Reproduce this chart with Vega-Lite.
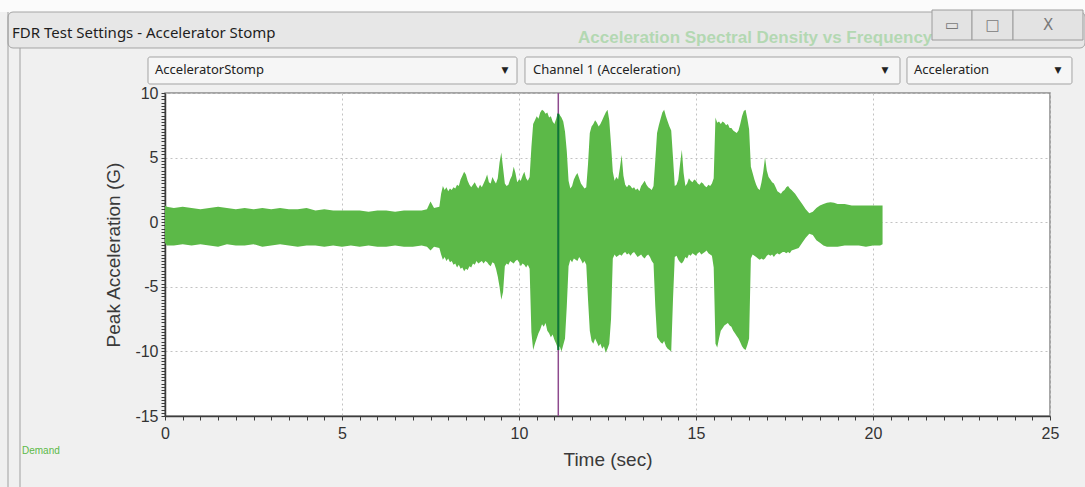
{
  "$schema": "https://vega.github.io/schema/vega-lite/v6.json",
  "width": 885,
  "height": 323,
  "autosize": "none",
  "padding": {"left": 165, "top": 93, "right": 35, "bottom": 71},
  "background": "#f0f0f0",
  "config": {
    "view": {"fill": "#ffffff", "stroke": "#8a8a8a", "strokeWidth": 1.5},
    "text": {"font": "Noto Sans"}
  },
  "datasets": {
    "signal": [
      {"t": 0.0, "hi": 1.3, "lo": -1.6}, {"t": 0.05, "hi": 1.2, "lo": -1.8}, {"t": 0.25, "hi": 1.1, "lo": -1.8},
      {"t": 0.5, "hi": 1.2, "lo": -1.7}, {"t": 0.75, "hi": 1.1, "lo": -1.8}, {"t": 1.0, "hi": 1.0, "lo": -1.7},
      {"t": 1.25, "hi": 1.1, "lo": -1.8}, {"t": 1.5, "hi": 1.2, "lo": -1.9}, {"t": 1.75, "hi": 1.1, "lo": -1.7},
      {"t": 2.0, "hi": 1.0, "lo": -1.8}, {"t": 2.25, "hi": 1.1, "lo": -1.8}, {"t": 2.5, "hi": 1.0, "lo": -1.7},
      {"t": 2.75, "hi": 1.1, "lo": -1.9}, {"t": 3.0, "hi": 1.0, "lo": -1.8}, {"t": 3.25, "hi": 1.1, "lo": -1.7},
      {"t": 3.5, "hi": 1.0, "lo": -1.8}, {"t": 3.75, "hi": 1.0, "lo": -1.9}, {"t": 4.0, "hi": 1.1, "lo": -1.8},
      {"t": 4.25, "hi": 0.9, "lo": -1.8}, {"t": 4.5, "hi": 1.0, "lo": -1.9}, {"t": 4.75, "hi": 0.9, "lo": -1.8},
      {"t": 5.0, "hi": 0.9, "lo": -1.9}, {"t": 5.25, "hi": 0.9, "lo": -1.8}, {"t": 5.5, "hi": 0.9, "lo": -1.9},
      {"t": 5.75, "hi": 0.8, "lo": -1.8}, {"t": 6.0, "hi": 0.9, "lo": -1.9}, {"t": 6.25, "hi": 0.9, "lo": -1.9},
      {"t": 6.5, "hi": 0.8, "lo": -1.8}, {"t": 6.75, "hi": 0.9, "lo": -1.9}, {"t": 7.0, "hi": 0.9, "lo": -1.9},
      {"t": 7.25, "hi": 0.9, "lo": -1.8}, {"t": 7.4, "hi": 1.0, "lo": -1.9}, {"t": 7.5, "hi": 1.6, "lo": -2.2},
      {"t": 7.6, "hi": 1.1, "lo": -1.9}, {"t": 7.75, "hi": 1.2, "lo": -2.0}, {"t": 7.8, "hi": 2.2, "lo": -2.5},
      {"t": 7.85, "hi": 2.8, "lo": -2.9}, {"t": 7.9, "hi": 2.5, "lo": -2.7}, {"t": 7.95, "hi": 2.7, "lo": -3.0},
      {"t": 8.0, "hi": 2.4, "lo": -2.8}, {"t": 8.05, "hi": 2.6, "lo": -3.1}, {"t": 8.1, "hi": 2.5, "lo": -3.0},
      {"t": 8.15, "hi": 2.7, "lo": -3.3}, {"t": 8.2, "hi": 2.6, "lo": -3.2}, {"t": 8.25, "hi": 2.9, "lo": -3.5},
      {"t": 8.3, "hi": 2.8, "lo": -3.3}, {"t": 8.35, "hi": 3.3, "lo": -3.6}, {"t": 8.4, "hi": 3.6, "lo": -3.5},
      {"t": 8.45, "hi": 3.9, "lo": -3.8}, {"t": 8.5, "hi": 3.7, "lo": -3.6}, {"t": 8.55, "hi": 3.2, "lo": -3.7},
      {"t": 8.6, "hi": 2.9, "lo": -3.4}, {"t": 8.65, "hi": 2.7, "lo": -3.5}, {"t": 8.7, "hi": 2.9, "lo": -3.2},
      {"t": 8.75, "hi": 3.1, "lo": -3.3}, {"t": 8.8, "hi": 2.8, "lo": -3.0}, {"t": 8.85, "hi": 2.6, "lo": -3.2},
      {"t": 8.9, "hi": 2.9, "lo": -3.1}, {"t": 8.95, "hi": 2.7, "lo": -3.0}, {"t": 9.0, "hi": 3.0, "lo": -3.2},
      {"t": 9.05, "hi": 3.3, "lo": -3.0}, {"t": 9.1, "hi": 3.7, "lo": -3.1}, {"t": 9.15, "hi": 3.1, "lo": -3.3},
      {"t": 9.2, "hi": 3.0, "lo": -3.4}, {"t": 9.25, "hi": 3.5, "lo": -3.1}, {"t": 9.3, "hi": 3.2, "lo": -3.2},
      {"t": 9.35, "hi": 3.0, "lo": -3.6}, {"t": 9.4, "hi": 3.4, "lo": -4.2}, {"t": 9.45, "hi": 4.6, "lo": -5.0},
      {"t": 9.5, "hi": 5.4, "lo": -6.0}, {"t": 9.55, "hi": 4.2, "lo": -5.4}, {"t": 9.6, "hi": 3.0, "lo": -3.4},
      {"t": 9.65, "hi": 2.8, "lo": -3.2}, {"t": 9.7, "hi": 2.9, "lo": -3.3}, {"t": 9.75, "hi": 3.3, "lo": -3.0},
      {"t": 9.8, "hi": 3.6, "lo": -3.1}, {"t": 9.85, "hi": 4.3, "lo": -3.2}, {"t": 9.9, "hi": 3.8, "lo": -3.0},
      {"t": 9.95, "hi": 3.1, "lo": -2.9}, {"t": 10.0, "hi": 3.3, "lo": -3.1}, {"t": 10.05, "hi": 3.2, "lo": -3.4},
      {"t": 10.1, "hi": 3.6, "lo": -3.2}, {"t": 10.15, "hi": 3.9, "lo": -3.3}, {"t": 10.2, "hi": 3.4, "lo": -3.5},
      {"t": 10.25, "hi": 3.2, "lo": -3.3}, {"t": 10.3, "hi": 3.5, "lo": -3.6}, {"t": 10.35, "hi": 5.8, "lo": -8.5},
      {"t": 10.4, "hi": 7.6, "lo": -9.9}, {"t": 10.45, "hi": 7.9, "lo": -9.4}, {"t": 10.5, "hi": 8.2, "lo": -9.0},
      {"t": 10.55, "hi": 8.0, "lo": -8.6}, {"t": 10.6, "hi": 8.5, "lo": -8.3}, {"t": 10.65, "hi": 8.7, "lo": -7.9},
      {"t": 10.7, "hi": 8.6, "lo": -8.1}, {"t": 10.75, "hi": 8.4, "lo": -7.8}, {"t": 10.8, "hi": 8.5, "lo": -8.4},
      {"t": 10.85, "hi": 8.1, "lo": -8.6}, {"t": 10.9, "hi": 8.2, "lo": -8.9}, {"t": 10.95, "hi": 7.8, "lo": -8.7},
      {"t": 11.0, "hi": 7.6, "lo": -9.1}, {"t": 11.05, "hi": 8.0, "lo": -9.4}, {"t": 11.1, "hi": 8.5, "lo": -9.8},
      {"t": 11.15, "hi": 8.3, "lo": -9.6}, {"t": 11.2, "hi": 8.1, "lo": -10.0}, {"t": 11.25, "hi": 7.8, "lo": -9.5},
      {"t": 11.3, "hi": 7.0, "lo": -9.0}, {"t": 11.35, "hi": 5.5, "lo": -6.5}, {"t": 11.4, "hi": 3.2, "lo": -3.4},
      {"t": 11.45, "hi": 2.6, "lo": -2.9}, {"t": 11.5, "hi": 2.8, "lo": -3.1}, {"t": 11.55, "hi": 3.3, "lo": -2.8},
      {"t": 11.6, "hi": 3.6, "lo": -2.9}, {"t": 11.65, "hi": 3.8, "lo": -3.0}, {"t": 11.7, "hi": 3.4, "lo": -2.7},
      {"t": 11.75, "hi": 3.0, "lo": -2.9}, {"t": 11.8, "hi": 2.8, "lo": -3.2}, {"t": 11.85, "hi": 2.6, "lo": -3.0},
      {"t": 11.9, "hi": 2.7, "lo": -3.3}, {"t": 11.95, "hi": 4.5, "lo": -6.0}, {"t": 12.0, "hi": 6.9, "lo": -8.4},
      {"t": 12.05, "hi": 7.4, "lo": -9.2}, {"t": 12.1, "hi": 7.6, "lo": -9.4}, {"t": 12.15, "hi": 7.9, "lo": -9.0},
      {"t": 12.2, "hi": 7.7, "lo": -9.3}, {"t": 12.25, "hi": 7.4, "lo": -9.6}, {"t": 12.3, "hi": 7.6, "lo": -9.4},
      {"t": 12.35, "hi": 7.9, "lo": -9.8}, {"t": 12.4, "hi": 8.2, "lo": -9.6}, {"t": 12.45, "hi": 8.5, "lo": -10.1},
      {"t": 12.5, "hi": 8.7, "lo": -9.8}, {"t": 12.55, "hi": 7.9, "lo": -9.4}, {"t": 12.6, "hi": 6.0, "lo": -7.5},
      {"t": 12.65, "hi": 3.9, "lo": -2.8}, {"t": 12.7, "hi": 3.2, "lo": -2.5}, {"t": 12.75, "hi": 3.5, "lo": -2.7},
      {"t": 12.8, "hi": 3.3, "lo": -2.6}, {"t": 12.85, "hi": 4.2, "lo": -2.5}, {"t": 12.9, "hi": 5.2, "lo": -2.6},
      {"t": 12.95, "hi": 3.6, "lo": -2.4}, {"t": 13.0, "hi": 2.9, "lo": -2.3}, {"t": 13.05, "hi": 2.7, "lo": -2.5},
      {"t": 13.1, "hi": 2.9, "lo": -2.4}, {"t": 13.15, "hi": 2.8, "lo": -2.6}, {"t": 13.2, "hi": 2.6, "lo": -2.4},
      {"t": 13.25, "hi": 2.7, "lo": -2.3}, {"t": 13.3, "hi": 2.5, "lo": -2.5}, {"t": 13.35, "hi": 2.6, "lo": -2.7},
      {"t": 13.4, "hi": 2.4, "lo": -2.6}, {"t": 13.45, "hi": 2.8, "lo": -2.5}, {"t": 13.5, "hi": 3.0, "lo": -2.7},
      {"t": 13.55, "hi": 3.2, "lo": -2.8}, {"t": 13.6, "hi": 2.9, "lo": -2.6}, {"t": 13.65, "hi": 2.7, "lo": -2.5},
      {"t": 13.7, "hi": 2.6, "lo": -2.7}, {"t": 13.75, "hi": 2.5, "lo": -3.0}, {"t": 13.8, "hi": 2.8, "lo": -3.2},
      {"t": 13.85, "hi": 4.8, "lo": -6.5}, {"t": 13.9, "hi": 6.9, "lo": -8.9}, {"t": 13.95, "hi": 7.5, "lo": -9.1},
      {"t": 14.0, "hi": 8.0, "lo": -9.3}, {"t": 14.05, "hi": 8.5, "lo": -9.4}, {"t": 14.1, "hi": 8.7, "lo": -9.2},
      {"t": 14.15, "hi": 8.2, "lo": -9.6}, {"t": 14.2, "hi": 7.8, "lo": -9.8}, {"t": 14.25, "hi": 7.4, "lo": -9.9},
      {"t": 14.3, "hi": 7.1, "lo": -10.0}, {"t": 14.35, "hi": 5.0, "lo": -6.0}, {"t": 14.4, "hi": 2.8, "lo": -2.7},
      {"t": 14.45, "hi": 2.9, "lo": -2.6}, {"t": 14.5, "hi": 3.3, "lo": -2.9}, {"t": 14.55, "hi": 4.5, "lo": -3.1},
      {"t": 14.6, "hi": 5.6, "lo": -3.2}, {"t": 14.65, "hi": 3.8, "lo": -3.0}, {"t": 14.7, "hi": 2.8, "lo": -2.7},
      {"t": 14.75, "hi": 3.0, "lo": -2.8}, {"t": 14.8, "hi": 3.4, "lo": -2.5}, {"t": 14.85, "hi": 3.2, "lo": -2.6},
      {"t": 14.9, "hi": 3.1, "lo": -2.4}, {"t": 14.95, "hi": 3.3, "lo": -2.5}, {"t": 15.0, "hi": 3.2, "lo": -2.6},
      {"t": 15.05, "hi": 3.0, "lo": -2.4}, {"t": 15.1, "hi": 2.9, "lo": -2.3}, {"t": 15.15, "hi": 3.1, "lo": -2.5},
      {"t": 15.2, "hi": 3.0, "lo": -2.4}, {"t": 15.25, "hi": 2.8, "lo": -2.3}, {"t": 15.3, "hi": 2.7, "lo": -2.2},
      {"t": 15.35, "hi": 2.9, "lo": -2.4}, {"t": 15.4, "hi": 2.8, "lo": -2.5}, {"t": 15.45, "hi": 3.0, "lo": -2.6},
      {"t": 15.5, "hi": 3.4, "lo": -3.5}, {"t": 15.55, "hi": 8.1, "lo": -9.4}, {"t": 15.6, "hi": 7.7, "lo": -9.7},
      {"t": 15.65, "hi": 7.8, "lo": -9.0}, {"t": 15.7, "hi": 7.6, "lo": -8.4}, {"t": 15.75, "hi": 7.8, "lo": -8.2},
      {"t": 15.8, "hi": 7.7, "lo": -8.0}, {"t": 15.85, "hi": 7.5, "lo": -7.9}, {"t": 15.9, "hi": 7.6, "lo": -7.8},
      {"t": 15.95, "hi": 7.3, "lo": -8.0}, {"t": 16.0, "hi": 7.3, "lo": -8.1}, {"t": 16.05, "hi": 7.1, "lo": -8.4},
      {"t": 16.1, "hi": 7.0, "lo": -8.6}, {"t": 16.15, "hi": 6.9, "lo": -8.8}, {"t": 16.2, "hi": 7.1, "lo": -9.0},
      {"t": 16.25, "hi": 7.6, "lo": -9.3}, {"t": 16.3, "hi": 8.2, "lo": -9.6}, {"t": 16.35, "hi": 8.6, "lo": -9.8},
      {"t": 16.4, "hi": 8.7, "lo": -9.9}, {"t": 16.45, "hi": 8.0, "lo": -9.5}, {"t": 16.5, "hi": 7.2, "lo": -9.0},
      {"t": 16.55, "hi": 4.3, "lo": -2.8}, {"t": 16.6, "hi": 3.8, "lo": -2.5}, {"t": 16.65, "hi": 3.3, "lo": -2.6},
      {"t": 16.7, "hi": 2.9, "lo": -2.7}, {"t": 16.75, "hi": 2.6, "lo": -2.8}, {"t": 16.8, "hi": 2.5, "lo": -2.9},
      {"t": 16.85, "hi": 3.1, "lo": -2.8}, {"t": 16.9, "hi": 3.9, "lo": -2.9}, {"t": 16.95, "hi": 5.0, "lo": -2.8},
      {"t": 17.0, "hi": 4.0, "lo": -2.6}, {"t": 17.05, "hi": 3.5, "lo": -2.5}, {"t": 17.1, "hi": 3.3, "lo": -2.6},
      {"t": 17.15, "hi": 3.1, "lo": -2.5}, {"t": 17.2, "hi": 3.0, "lo": -2.7}, {"t": 17.25, "hi": 2.7, "lo": -2.5},
      {"t": 17.3, "hi": 2.4, "lo": -2.4}, {"t": 17.35, "hi": 2.3, "lo": -2.5}, {"t": 17.4, "hi": 2.2, "lo": -2.4},
      {"t": 17.45, "hi": 2.4, "lo": -2.3}, {"t": 17.5, "hi": 2.5, "lo": -2.3}, {"t": 17.55, "hi": 2.7, "lo": -2.4},
      {"t": 17.6, "hi": 2.8, "lo": -2.3}, {"t": 17.65, "hi": 2.6, "lo": -2.4}, {"t": 17.7, "hi": 2.5, "lo": -2.2},
      {"t": 17.8, "hi": 2.2, "lo": -2.1}, {"t": 17.9, "hi": 1.8, "lo": -2.0}, {"t": 18.0, "hi": 1.4, "lo": -1.6},
      {"t": 18.1, "hi": 1.0, "lo": -1.2}, {"t": 18.2, "hi": 0.7, "lo": -0.9}, {"t": 18.3, "hi": 0.8, "lo": -1.0},
      {"t": 18.4, "hi": 1.1, "lo": -1.4}, {"t": 18.5, "hi": 1.3, "lo": -1.6}, {"t": 18.6, "hi": 1.4, "lo": -1.8},
      {"t": 18.7, "hi": 1.5, "lo": -1.9}, {"t": 18.8, "hi": 1.55, "lo": -1.9}, {"t": 18.9, "hi": 1.5, "lo": -1.9},
      {"t": 19.0, "hi": 1.4, "lo": -1.9}, {"t": 19.2, "hi": 1.4, "lo": -1.8}, {"t": 19.4, "hi": 1.3, "lo": -1.8},
      {"t": 19.6, "hi": 1.3, "lo": -1.8}, {"t": 19.8, "hi": 1.3, "lo": -1.9}, {"t": 20.0, "hi": 1.3, "lo": -1.8},
      {"t": 20.2, "hi": 1.3, "lo": -1.8}, {"t": 20.27, "hi": 1.3, "lo": -1.7}
    ],
    "cursor": [{"t": 11.11, "top": 10, "bottom": -15, "gtop": 8.4, "gbottom": -9.9}],
    "topstrip": [{"x": -4.661, "x2": 25.989, "y": 17.198, "y2": 16.269}],
    "titlebar": [{"x": -4.435, "x2": 25.989, "y": 16.269, "y2": 13.483}],
    "frame": [
      {"x": -4.435, "y": 16.269, "y2": -20.495},
      {"x": -4.096, "y": 13.483, "y2": -20.495}
    ],
    "windowtitle": [{"x": -4.322, "y": 14.644, "label": "FDR Test Settings - Accelerator Stomp"}],
    "ghosttitle": [{"x": 11.667, "y": 14.257, "label": "Acceleration Spectral Density vs Frequency"}],
    "buttons": [
      {"x": 21.667, "x2": 22.797, "y": 16.424, "y2": 14.102, "cx": 22.232, "cy": 15.263, "glyph": "▭"},
      {"x": 22.797, "x2": 23.955, "y": 16.424, "y2": 14.102, "cx": 23.376, "cy": 15.263, "glyph": "□"},
      {"x": 23.955, "x2": 25.932, "y": 16.424, "y2": 14.102, "cx": 24.944, "cy": 15.263, "glyph": "X"}
    ],
    "dropdowns": [
      {"x": -0.48, "x2": 9.944, "y": 12.786, "y2": 10.697, "lx": -0.282, "ly": 11.742, "ax": 9.605, "label": "AcceleratorStomp"},
      {"x": 10.169, "x2": 20.763, "y": 12.786, "y2": 10.697, "lx": 10.395, "ly": 11.742, "ax": 20.339, "label": "Channel 1 (Acceleration)"},
      {"x": 20.96, "x2": 25.621, "y": 12.786, "y2": 10.697, "lx": 21.158, "ly": 11.742, "ax": 25.226, "label": "Acceleration"}
    ],
    "legendnote": [{"x": -4.04, "y": -17.709, "label": "Demand"}]
  },
  "layer": [
    {
      "data": {"name": "topstrip"},
      "mark": {"type": "rect", "fill": "#fbfbfb"},
      "encoding": {
        "x": {"field": "x", "type": "quantitative", "scale": {"domain": [0, 25], "nice": false, "zero": false}, "axis": null},
        "x2": {"field": "x2"},
        "y": {"field": "y", "type": "quantitative", "scale": {"domain": [-15, 10], "nice": false, "zero": false}, "axis": null},
        "y2": {"field": "y2"}
      }
    },
    {
      "data": {"name": "titlebar"},
      "mark": {"type": "rect", "fill": "#e7e7e7", "stroke": "#a5a5a5", "strokeWidth": 1, "cornerRadius": 5},
      "encoding": {
        "x": {"field": "x", "type": "quantitative", "scale": {"domain": [0, 25], "nice": false, "zero": false}, "axis": null},
        "x2": {"field": "x2"},
        "y": {"field": "y", "type": "quantitative", "scale": {"domain": [-15, 10], "nice": false, "zero": false}, "axis": null},
        "y2": {"field": "y2"}
      }
    },
    {
      "data": {"name": "frame"},
      "mark": {"type": "rule", "stroke": "#a0a0a0", "strokeWidth": 1},
      "encoding": {
        "x": {"field": "x", "type": "quantitative", "scale": {"domain": [0, 25], "nice": false, "zero": false}, "axis": null},
        "y": {"field": "y", "type": "quantitative", "scale": {"domain": [-15, 10], "nice": false, "zero": false}, "axis": null},
        "y2": {"field": "y2"}
      }
    },
    {
      "data": {"name": "windowtitle"},
      "mark": {"type": "text", "align": "left", "baseline": "middle", "fontSize": 15, "color": "#1e1e1e", "font": "Noto Sans"},
      "encoding": {
        "x": {"field": "x", "type": "quantitative", "scale": {"domain": [0, 25], "nice": false, "zero": false}, "axis": null},
        "y": {"field": "y", "type": "quantitative", "scale": {"domain": [-15, 10], "nice": false, "zero": false}, "axis": null},
        "text": {"field": "label"}
      }
    },
    {
      "data": {"name": "ghosttitle"},
      "mark": {"type": "text", "align": "left", "baseline": "middle", "fontSize": 17, "fontWeight": "bold", "color": "#6cc46a", "opacity": 0.42, "font": "Liberation Sans"},
      "encoding": {
        "x": {"field": "x", "type": "quantitative", "scale": {"domain": [0, 25], "nice": false, "zero": false}, "axis": null},
        "y": {"field": "y", "type": "quantitative", "scale": {"domain": [-15, 10], "nice": false, "zero": false}, "axis": null},
        "text": {"field": "label"}
      }
    },
    {
      "data": {"name": "buttons"},
      "mark": {"type": "rect", "fill": "#e3e3e3", "stroke": "#9c9c9c", "strokeWidth": 1},
      "encoding": {
        "x": {"field": "x", "type": "quantitative", "scale": {"domain": [0, 25], "nice": false, "zero": false}, "axis": null},
        "x2": {"field": "x2"},
        "y": {"field": "y", "type": "quantitative", "scale": {"domain": [-15, 10], "nice": false, "zero": false}, "axis": null},
        "y2": {"field": "y2"}
      }
    },
    {
      "data": {"name": "buttons"},
      "mark": {"type": "text", "align": "center", "baseline": "middle", "fontSize": 15, "color": "#7a7a7a", "font": "DejaVu Sans"},
      "encoding": {
        "x": {"field": "cx", "type": "quantitative", "scale": {"domain": [0, 25], "nice": false, "zero": false}, "axis": null},
        "y": {"field": "cy", "type": "quantitative", "scale": {"domain": [-15, 10], "nice": false, "zero": false}, "axis": null},
        "text": {"field": "glyph"}
      }
    },
    {
      "data": {"name": "dropdowns"},
      "mark": {"type": "rect", "fill": "#f6f6f6", "stroke": "#a3a3a3", "strokeWidth": 1, "cornerRadius": 2},
      "encoding": {
        "x": {"field": "x", "type": "quantitative", "scale": {"domain": [0, 25], "nice": false, "zero": false}, "axis": null},
        "x2": {"field": "x2"},
        "y": {"field": "y", "type": "quantitative", "scale": {"domain": [-15, 10], "nice": false, "zero": false}, "axis": null},
        "y2": {"field": "y2"}
      }
    },
    {
      "data": {"name": "dropdowns"},
      "mark": {"type": "text", "align": "left", "baseline": "middle", "fontSize": 13, "color": "#222222", "font": "Noto Sans"},
      "encoding": {
        "x": {"field": "lx", "type": "quantitative", "scale": {"domain": [0, 25], "nice": false, "zero": false}, "axis": null},
        "y": {"field": "ly", "type": "quantitative", "scale": {"domain": [-15, 10], "nice": false, "zero": false}, "axis": null},
        "text": {"field": "label"}
      }
    },
    {
      "data": {"name": "dropdowns"},
      "mark": {"type": "text", "align": "center", "baseline": "middle", "fontSize": 9, "color": "#222222", "font": "DejaVu Sans", "text": "▼"},
      "encoding": {
        "x": {"field": "ax", "type": "quantitative", "scale": {"domain": [0, 25], "nice": false, "zero": false}, "axis": null},
        "y": {"field": "ly", "type": "quantitative", "scale": {"domain": [-15, 10], "nice": false, "zero": false}, "axis": null}
      }
    },
    {
      "data": {"name": "legendnote"},
      "mark": {"type": "text", "align": "left", "baseline": "middle", "fontSize": 10, "color": "#5cb948", "font": "Liberation Sans"},
      "encoding": {
        "x": {"field": "x", "type": "quantitative", "scale": {"domain": [0, 25], "nice": false, "zero": false}, "axis": null},
        "y": {"field": "y", "type": "quantitative", "scale": {"domain": [-15, 10], "nice": false, "zero": false}, "axis": null},
        "text": {"field": "label"}
      }
    },
    {
      "data": {"name": "signal"},
      "mark": {"type": "area", "color": "#5cb948", "interpolate": "linear"},
      "encoding": {
        "x": {
          "field": "t", "type": "quantitative",
          "scale": {"domain": [0, 25], "nice": false, "zero": false},
          "axis": {
            "orient": "bottom",
            "values": [0, 0.5, 1, 1.5, 2, 2.5, 3, 3.5, 4, 4.5, 5, 5.5, 6, 6.5, 7, 7.5, 8, 8.5, 9, 9.5, 10, 10.5, 11, 11.5, 12, 12.5, 13, 13.5, 14, 14.5, 15, 15.5, 16, 16.5, 17, 17.5, 18, 18.5, 19, 19.5, 20, 20.5, 21, 21.5, 22, 22.5, 23, 23.5, 24, 24.5, 25],
            "labelExpr": "datum.value % 5 === 0 ? toString(datum.value) : ''",
            "grid": true, "gridColor": "#c2c2c2", "gridDash": [2, 3], "gridWidth": 1,
            "gridOpacity": {"condition": {"test": "datum.value % 5 === 0", "value": 1}, "value": 0},
            "domainColor": "#3c3c3c", "domainWidth": 1.5,
            "tickColor": "#3c3c3c", "tickWidth": 1, "tickSize": 4,
            "labelFont": "Liberation Sans", "labelFontSize": 16, "labelColor": "#333333",
            "labelPadding": 5, "labelFlush": false, "labelOverlap": false, "labelBound": false,
            "title": "Time (sec)", "titleFont": "Liberation Sans", "titleFontSize": 19,
            "titleFontWeight": "normal", "titleColor": "#3a3a3a",
            "titleX": 442.5, "titleY": 43, "titleBaseline": "middle", "titleAlign": "center"
          }
        },
        "y": {
          "field": "hi", "type": "quantitative",
          "scale": {"domain": [-15, 10], "nice": false, "zero": false},
          "axis": {
            "orient": "left",
            "values": [-15, -14.75, -14.5, -14.25, -14, -13.75, -13.5, -13.25, -13, -12.75, -12.5, -12.25, -12, -11.75, -11.5, -11.25, -11, -10.75, -10.5, -10.25, -10, -9.75, -9.5, -9.25, -9, -8.75, -8.5, -8.25, -8, -7.75, -7.5, -7.25, -7, -6.75, -6.5, -6.25, -6, -5.75, -5.5, -5.25, -5, -4.75, -4.5, -4.25, -4, -3.75, -3.5, -3.25, -3, -2.75, -2.5, -2.25, -2, -1.75, -1.5, -1.25, -1, -0.75, -0.5, -0.25, 0, 0.25, 0.5, 0.75, 1, 1.25, 1.5, 1.75, 2, 2.25, 2.5, 2.75, 3, 3.25, 3.5, 3.75, 4, 4.25, 4.5, 4.75, 5, 5.25, 5.5, 5.75, 6, 6.25, 6.5, 6.75, 7, 7.25, 7.5, 7.75, 8, 8.25, 8.5, 8.75, 9, 9.25, 9.5, 9.75, 10],
            "labelExpr": "datum.value % 5 === 0 ? toString(datum.value) : ''",
            "grid": true, "gridColor": "#c2c2c2", "gridDash": [2, 3], "gridWidth": 1,
            "gridOpacity": {"condition": {"test": "datum.value % 5 === 0", "value": 1}, "value": 0},
            "domainColor": "#3c3c3c", "domainWidth": 1.5,
            "tickColor": "#3c3c3c", "tickWidth": 1, "tickSize": 4,
            "labelFont": "Liberation Sans", "labelFontSize": 16, "labelColor": "#333333",
            "labelPadding": 3, "labelOverlap": false, "labelBound": false, "labelFlush": false,
            "title": "Peak Acceleration (G)", "titleFont": "Liberation Sans", "titleFontSize": 19,
            "titleFontWeight": "normal", "titleColor": "#3a3a3a",
            "titleX": -52, "titleY": 161.5, "titleBaseline": "middle", "titleAlign": "center", "titleAngle": -90
          }
        },
        "y2": {"field": "lo"}
      }
    },
    {
      "data": {"name": "cursor"},
      "mark": {"type": "rule", "color": "#8e4a8e", "strokeWidth": 1.5},
      "encoding": {
        "x": {"field": "t", "type": "quantitative", "scale": {"domain": [0, 25], "nice": false, "zero": false}, "axis": null},
        "y": {"field": "top", "type": "quantitative", "scale": {"domain": [-15, 10], "nice": false, "zero": false}, "axis": null},
        "y2": {"field": "bottom"}
      }
    },
    {
      "data": {"name": "cursor"},
      "mark": {"type": "rule", "color": "#0b7a34", "strokeWidth": 2},
      "encoding": {
        "x": {"field": "t", "type": "quantitative", "scale": {"domain": [0, 25], "nice": false, "zero": false}, "axis": null},
        "y": {"field": "gtop", "type": "quantitative", "scale": {"domain": [-15, 10], "nice": false, "zero": false}, "axis": null},
        "y2": {"field": "gbottom"}
      }
    }
  ],
  "resolve": {"axis": {"x": "independent", "y": "independent"}}
}
